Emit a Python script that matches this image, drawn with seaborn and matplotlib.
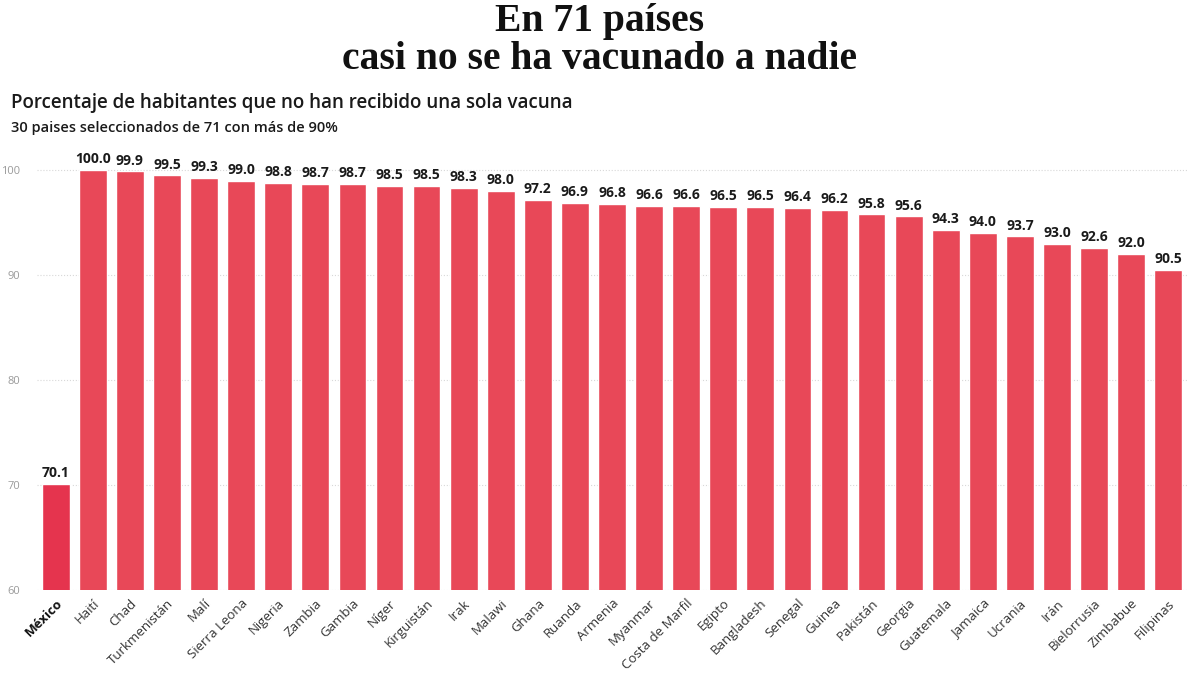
import pandas as pd
import numpy as np
import matplotlib.pyplot as plt
import seaborn as sns

paises = ['México', 'Haití', 'Chad', 'Turkmenistán', 'Malí', 'Sierra Leona', 'Nigeria',
          'Zambia', 'Gambia', 'Níger', 'Kirguistán', 'Irak', 'Malawi', 'Ghana', 'Ruanda',
          'Armenia', 'Myanmar', 'Costa de Marfil', 'Egipto', 'Bangladesh', 'Senegal',
          'Guinea', 'Pakistán', 'Georgia', 'Guatemala', 'Jamaica', 'Ucrania', 'Irán',
          'Bielorrusia', 'Zimbabue', 'Filipinas']
sin_vacuna = [70.1, 100.0, 99.9, 99.5, 99.3, 99.0, 98.8, 98.7, 98.7, 98.5, 98.5, 98.3,
              98.0, 97.2, 96.9, 96.8, 96.6, 96.6, 96.5, 96.5, 96.4, 96.2, 95.8, 95.6,
              94.3, 94.0, 93.7, 93.0, 92.6, 92.0, 90.5]
y_ticks = [60, 70, 80, 90, 100]

df = pd.DataFrame({'pais': paises, 'valor': sin_vacuna})

sns.set_style('white')
plt.rcParams['font.family'] = ['Open Sans', 'DejaVu Sans']

fig = plt.figure(figsize=(12, 6.75), dpi=100)
ax = fig.add_axes([0.031, 0.126, 0.958, 0.653])

# Mexico gets a slightly stronger red than the rest
colores = ['#e5344e'] + ['#e84858'] * (len(df) - 1)
sns.barplot(data=df, x='pais', y='valor', hue='pais', palette=colores, legend=False,
            width=0.75, saturation=1, ax=ax, zorder=3)

ax.set_ylim(60, 102)
ax.set_xlim(-0.5, len(df) - 0.5)
ax.set_yticks(y_ticks)
ax.set_yticklabels([str(t) for t in y_ticks], fontsize=8, color='#9a9a9a')
ax.tick_params(axis='y', length=0, pad=12)
ax.tick_params(axis='x', length=0, pad=5)
ax.grid(axis='y', color='#d8d8d8', linestyle=':', linewidth=0.8, zorder=0)
ax.set_xlabel('')
ax.set_ylabel('')
for s in ax.spines.values():
    s.set_visible(False)

ax.set_xticks(range(len(df)))
labels = ax.set_xticklabels(df['pais'], rotation=45, ha='right', rotation_mode='anchor',
                            fontsize=9.5, color='#333333')
labels[0].set_fontweight('bold')
labels[0].set_color('#111111')

for i, v in enumerate(df['valor']):
    ax.text(i, v + 0.35, f'{v:.1f}', ha='center', va='bottom', fontsize=10,
            fontweight='bold', color='#1a1a1a')

titulo = dict(ha='center', va='center', fontsize=28.5, fontweight='bold',
              family=['Liberation Serif'], color='#111111')
fig.text(0.5, 0.968, 'En 71 países', **titulo)
fig.text(0.5, 0.912, 'casi no se ha vacunado a nadie', **titulo)
fig.text(0.009, 0.848, 'Porcentaje de habitantes que no han recibido una sola vacuna',
         ha='left', va='center', fontsize=13.5, fontweight='semibold', color='#1a1a1a')
fig.text(0.009, 0.81, '30 paises seleccionados de 71 con más de 90%',
         ha='left', va='center', fontsize=10.5, fontweight='semibold', color='#1a1a1a')

fig.savefig('out.png', dpi=100, facecolor='white')
